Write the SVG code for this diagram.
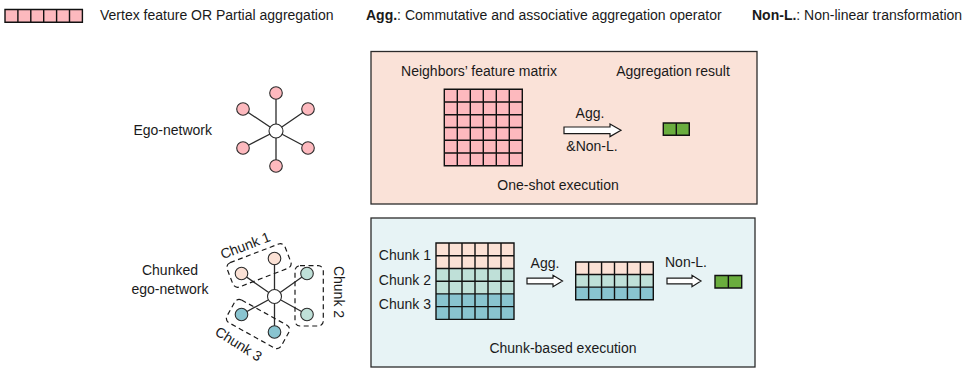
<svg xmlns="http://www.w3.org/2000/svg" width="980" height="368" viewBox="0 0 980 368">
<style>
text{font-family:"Liberation Sans",Arial,sans-serif;font-size:14px;fill:#1a1a1a}
.b{font-weight:bold}
.m{text-anchor:middle}
.e{text-anchor:end}
.ln{stroke:#2b2b2b;stroke-width:1.3;fill:none}
.cell{stroke:#111;stroke-width:1.4;fill:none}
.pink{fill:#fdb9be}
.peach{fill:#fbe1d5}
.lt{fill:#bfe0d8}
.tl{fill:#89c4d0}
.grn{fill:#6aad3e}
.nd{stroke:#2b2b2b;stroke-width:1.1}
.dash{fill:none;stroke:#1a1a1a;stroke-width:1.2;stroke-dasharray:5 3.5}
.arr{fill:#fff;stroke:#1a1a1a;stroke-width:1.2}
</style>

<g id="legend">
<g id="legend-cells">
<rect x="5" y="9.5" width="77.4" height="12.8" class="pink"/>
<path d="M5,9.5h77.4v12.8h-77.4z M17.9,9.5v12.8 M30.8,9.5v12.8 M43.7,9.5v12.8 M56.6,9.5v12.8 M69.5,9.5v12.8" class="cell"/>
</g>
<text x="100" y="20">Vertex feature OR Partial aggregation</text>
<text x="366" y="20"><tspan class="b">Agg.</tspan>: Commutative and associative aggregation operator</text>
<text x="752" y="20"><tspan class="b">Non-L.</tspan>: Non-linear transformation</text>
</g>

<g id="ego-network">
<text x="212" y="135" class="e">Ego-network</text>
<path class="ln" d="M276,131L276,93M276,131L243,109M276,131L308,109M276,131L243,148M276,131L308,148M276,131L276,166"/>
<circle cx="276" cy="93" r="6.3" class="pink nd"/>
<circle cx="243" cy="109" r="6.3" class="pink nd"/>
<circle cx="308" cy="109" r="6.3" class="pink nd"/>
<circle cx="243" cy="148" r="6.3" class="pink nd"/>
<circle cx="308" cy="148" r="6.3" class="pink nd"/>
<circle cx="276" cy="166" r="6.3" class="pink nd"/>
<circle cx="276" cy="131" r="7" fill="#fff" class="nd"/>
</g>

<g id="one-shot">
<rect x="371" y="51.5" width="386" height="152.5" fill="#fae2d8" stroke="#2b2b2b" stroke-width="1.3"/>
<text x="479" y="76" class="m">Neighbors’ feature matrix</text>
<text x="673" y="76" class="m">Aggregation result</text>
<rect x="444.3" y="89.3" width="78" height="76.4" class="pink"/>
<path class="cell" d="M444.3,89.3h78v76.4h-78z M457.3,89.3v76.4 M470.3,89.3v76.4 M483.3,89.3v76.4 M496.3,89.3v76.4 M509.3,89.3v76.4 M444.3,102.03h78 M444.3,114.77h78 M444.3,127.5h78 M444.3,140.23h78 M444.3,152.97h78"/>
<text x="590" y="118" class="m">Agg.</text>
<text x="592" y="151" class="m">&amp;Non-L.</text>
<rect x="663.3" y="123" width="26" height="12.3" class="grn"/>
<path d="M663.3,123h26v12.3h-26z M676.3,123v12.3" class="cell"/>
<text x="558" y="190" class="m">One-shot execution</text>
</g>

<g id="chunked-ego-network">
<text x="170" y="275" class="m">Chunked</text>
<text x="170" y="294" class="m">ego-network</text>
<path class="ln" d="M274.5,296.5L274.5,258.5M274.5,296.5L241.5,273.5M274.5,296.5L307,273.5M274.5,296.5L241.5,314.5M274.5,296.5L307,314.5M274.5,296.5L274.5,332"/>
<circle cx="274.5" cy="258.5" r="6.3" class="peach nd"/>
<circle cx="241.5" cy="273.5" r="6.3" class="peach nd"/>
<circle cx="307" cy="273.5" r="6.3" class="lt nd"/>
<circle cx="307" cy="314.5" r="6.3" class="lt nd"/>
<circle cx="241.5" cy="314.5" r="6.3" class="tl nd"/>
<circle cx="274.5" cy="332" r="6.3" class="tl nd"/>
<circle cx="274.5" cy="296.5" r="7" fill="#fff" class="nd"/>
<rect x="-31" y="-13" width="62" height="26" rx="5" class="dash" transform="translate(259,265.5) rotate(-21)"/>
<rect x="295" y="265.7" width="28.3" height="60.3" rx="5" class="dash"/>
<rect x="-31" y="-13" width="62" height="26" rx="5" class="dash" transform="translate(258,324) rotate(29)"/>
<text class="m" transform="translate(247,250) rotate(-21)">Chunk 1</text>
<text class="m" transform="translate(334,292) rotate(90)">Chunk 2</text>
<text class="m" transform="translate(236,348) rotate(32)">Chunk 3</text>
</g>

<g id="chunk-based">
<rect x="371" y="218" width="384" height="149" fill="#e7f3f5" stroke="#2b2b2b" stroke-width="1.3"/>
<text x="431" y="260" class="e">Chunk 1</text>
<text x="431" y="284.5" class="e">Chunk 2</text>
<text x="431" y="309" class="e">Chunk 3</text>
<rect x="436" y="243" width="78" height="25.46" class="peach"/>
<rect x="436" y="268.46" width="78" height="25.46" class="lt"/>
<rect x="436" y="293.92" width="78" height="25.46" class="tl"/>
<path class="cell" d="M436,243h78v76.38h-78z M449,243v76.38 M462,243v76.38 M475,243v76.38 M488,243v76.38 M501,243v76.38 M436,255.73h78 M436,268.46h78 M436,281.19h78 M436,293.92h78 M436,306.65h78"/>
<text x="545" y="268" class="m">Agg.</text>
<rect x="575.7" y="262" width="77.6" height="12.57" class="peach"/>
<rect x="575.7" y="274.57" width="77.6" height="12.57" class="lt"/>
<rect x="575.7" y="287.14" width="77.6" height="12.57" class="tl"/>
<path class="cell" d="M575.7,262h77.6v37.7h-77.6z M575.7,274.57h77.6 M575.7,287.14h77.6 M588.63,262v37.7 M601.57,262v37.7 M614.5,262v37.7 M627.43,262v37.7 M640.37,262v37.7"/>
<text x="686" y="267" class="m">Non-L.</text>
<rect x="715" y="275.5" width="26.7" height="12.5" class="grn"/>
<path d="M715,275.5h26.7v12.5h-26.7z M728.35,275.5v12.5" class="cell"/>
<text x="563" y="353" class="m">Chunk-based execution</text>
</g>

<g id="connectors">
<path class="arr" d="M564,127H610V124L621,130.3L610,136.6V133.6H564Z"/>
<path class="arr" d="M527,278.2H553V275.3L562.5,281L553,286.7V283.8H527Z"/>
<path class="arr" d="M667,278.2H692V275.3L701,281L692,286.7V283.8H667Z"/>
</g>
</svg>
